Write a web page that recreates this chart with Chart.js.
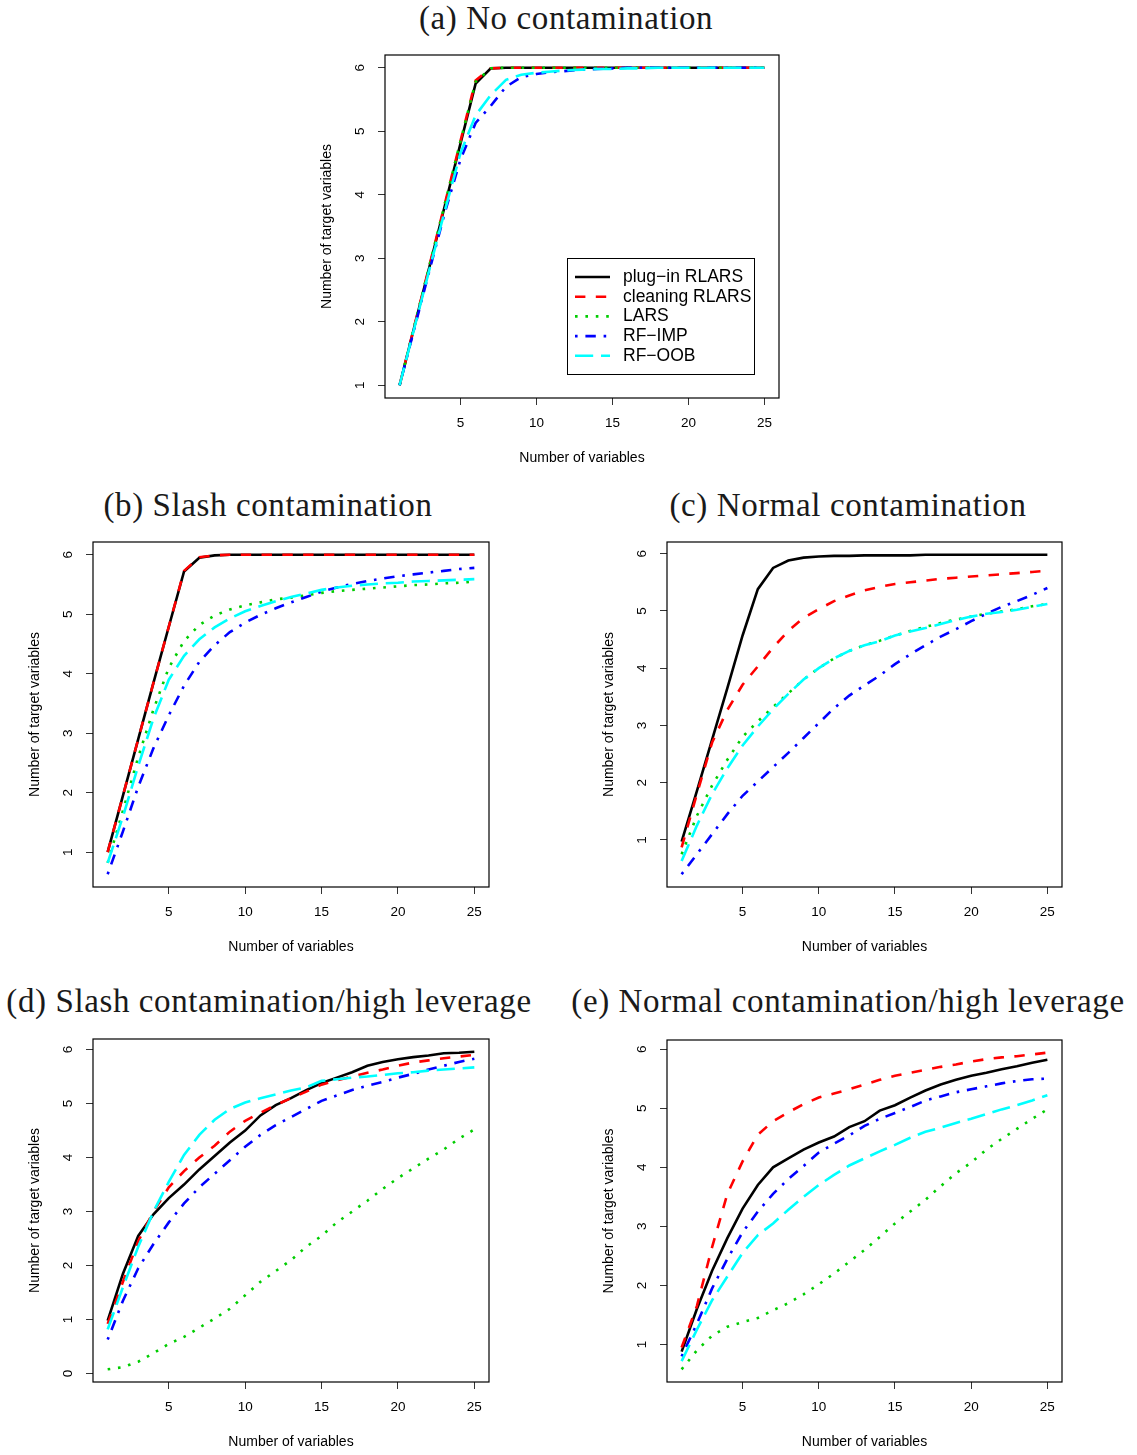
<!DOCTYPE html>
<html lang="en">
<head>
<meta charset="UTF-8">
<title>Number of target variables</title>
<script src="https://cdn.jsdelivr.net/npm/chart.js"></script>
<style>
  body { margin: 0; background: #fff; }
  #page { position: relative; width: 1137px; height: 1455px; overflow: hidden; }
  canvas { position: absolute; }
  .cap { position: absolute; font-family: "Liberation Serif", serif; font-size: 33px; line-height: 1;
         letter-spacing: 0.6px; color: #1a1a1a; white-space: nowrap; transform: translateX(-50%); }
</style>
</head>
<body>
<div id="page"></div>
<script>
const xVals = [1, 2, 3, 4, 5, 6, 7, 8, 9, 10, 11, 12, 13, 14, 15, 16, 17, 18, 19, 20, 21, 22, 23, 24, 25];
const xTicks = [5, 10, 15, 20, 25];

const seriesNames = ['plug\u2212in RLARS', 'cleaning RLARS', 'LARS', 'RF\u2212IMP', 'RF\u2212OOB'];
const seriesColors = ['#000000', '#ff0000', '#00cd00', '#0000ff', '#00ffff'];
const seriesDash = [[], [10.4, 10.4], [2.6, 7.8], [2.6, 7.8, 10.4, 7.8], [18.2, 7.8]];

// (a) no contamination
const aPlugin   = [1, 1.95, 2.9, 3.85, 4.8, 5.75, 5.99, 6, 6, 6, 6, 6, 6, 6, 6, 6, 6, 6, 6, 6, 6, 6, 6, 6, 6];
const aCleaning = [1, 1.96, 2.92, 3.88, 4.84, 5.8, 5.99, 6, 6, 6, 6, 6, 6, 6, 6, 6, 6, 6, 6, 6, 6, 6, 6, 6, 6];
const aLars     = [1, 1.96, 2.92, 3.88, 4.84, 5.78, 5.99, 6, 6, 6, 6, 6, 6, 6, 6, 6, 6, 6, 6, 6, 6, 6, 6, 6, 6];
const aRfImp    = [1, 1.92, 2.84, 3.74, 4.55, 5.13, 5.4, 5.7, 5.85, 5.9, 5.93, 5.95, 5.97, 5.98, 5.99, 6, 6, 6, 6, 6, 6, 6, 6, 6, 6];
const aRfOob    = [1, 1.93, 2.86, 3.77, 4.65, 5.25, 5.57, 5.81, 5.89, 5.92, 5.94, 5.96, 5.97, 5.98, 5.98, 5.99, 5.99, 6, 6, 6, 6, 6, 6, 6, 6];

// (b) slash contamination
const bPlugin   = [1, 1.95, 2.9, 3.85, 4.79, 5.72, 5.95, 5.99, 6, 6, 6, 6, 6, 6, 6, 6, 6, 6, 6, 6, 6, 6, 6, 6, 6];
const bCleaning = [1, 1.95, 2.9, 3.85, 4.79, 5.73, 5.96, 5.99, 6, 6, 6, 6, 6, 6, 6, 6, 6, 6, 6, 6, 6, 6, 6, 6, 6];
const bLars     = [0.82, 1.7, 2.6, 3.4, 4.1, 4.55, 4.82, 4.98, 5.08, 5.15, 5.2, 5.25, 5.28, 5.32, 5.36, 5.39, 5.41, 5.43, 5.45, 5.47, 5.49, 5.5, 5.52, 5.53, 5.55];
const bRfImp    = [0.63, 1.35, 2.1, 2.75, 3.3, 3.8, 4.2, 4.48, 4.7, 4.86, 4.99, 5.1, 5.2, 5.29, 5.38, 5.45, 5.51, 5.56, 5.6, 5.64, 5.67, 5.7, 5.73, 5.76, 5.78];
const bRfOob    = [0.82, 1.6, 2.45, 3.25, 3.9, 4.3, 4.58, 4.78, 4.93, 5.05, 5.14, 5.22, 5.29, 5.35, 5.41, 5.45, 5.48, 5.5, 5.52, 5.53, 5.55, 5.56, 5.57, 5.58, 5.59];

// (c) normal contamination
const cPlugin   = [0.97, 1.85, 2.75, 3.65, 4.57, 5.38, 5.75, 5.88, 5.93, 5.95, 5.96, 5.96, 5.97, 5.97, 5.97, 5.97, 5.98, 5.98, 5.98, 5.98, 5.98, 5.98, 5.98, 5.98, 5.98];
const cCleaning = [0.87, 1.8, 2.7, 3.27, 3.71, 4.03, 4.36, 4.65, 4.88, 5.03, 5.17, 5.27, 5.36, 5.42, 5.47, 5.5, 5.53, 5.56, 5.58, 5.6, 5.62, 5.64, 5.66, 5.68, 5.7];
const cLars     = [0.75, 1.42, 1.95, 2.4, 2.8, 3.07, 3.32, 3.56, 3.8, 4.0, 4.17, 4.3, 4.4, 4.48, 4.57, 4.65, 4.72, 4.79, 4.85, 4.9, 4.95, 4.99, 5.03, 5.08, 5.12];
const cRfImp    = [0.4, 0.75, 1.1, 1.45, 1.77, 2.02, 2.27, 2.52, 2.78, 3.04, 3.3, 3.52, 3.7, 3.87, 4.07, 4.24, 4.4, 4.55, 4.68, 4.82, 4.95, 5.07, 5.17, 5.28, 5.4];
const cRfOob    = [0.63, 1.25, 1.8, 2.25, 2.65, 2.98, 3.28, 3.55, 3.8, 4.0, 4.17, 4.3, 4.4, 4.47, 4.57, 4.64, 4.7, 4.77, 4.84, 4.9, 4.95, 4.98, 5.02, 5.07, 5.12];

// (d) slash contamination / high leverage
const dPlugin   = [0.98, 1.85, 2.55, 2.95, 3.25, 3.5, 3.78, 4.03, 4.28, 4.5, 4.78, 4.97, 5.1, 5.25, 5.38, 5.48, 5.58, 5.7, 5.77, 5.82, 5.86, 5.89, 5.93, 5.94, 5.96];
const dCleaning = [0.92, 1.7, 2.45, 3.0, 3.45, 3.75, 4.0, 4.22, 4.48, 4.68, 4.83, 4.97, 5.1, 5.22, 5.35, 5.43, 5.5, 5.57, 5.63, 5.7, 5.76, 5.8, 5.84, 5.87, 5.9];
const dLars     = [0.08, 0.12, 0.22, 0.38, 0.55, 0.68, 0.85, 1.02, 1.2, 1.45, 1.7, 1.9, 2.1, 2.35, 2.55, 2.8, 3.0, 3.2, 3.42, 3.62, 3.8, 3.98, 4.15, 4.35, 4.52];
const dRfImp    = [0.63, 1.35, 1.95, 2.4, 2.8, 3.15, 3.45, 3.7, 3.95, 4.2, 4.42, 4.6, 4.75, 4.9, 5.05, 5.15, 5.25, 5.33, 5.4, 5.48, 5.55, 5.63, 5.7, 5.77, 5.83];
const dRfOob    = [0.82, 1.6, 2.35, 3.0, 3.55, 4.05, 4.42, 4.7, 4.9, 5.02, 5.1, 5.17, 5.24, 5.3, 5.42, 5.45, 5.48, 5.5, 5.53, 5.56, 5.58, 5.61, 5.63, 5.65, 5.67];

// (e) normal contamination / high leverage
const ePlugin   = [0.88, 1.6, 2.25, 2.8, 3.3, 3.7, 4.0, 4.15, 4.3, 4.42, 4.52, 4.68, 4.78, 4.96, 5.05, 5.18, 5.3, 5.4, 5.48, 5.55, 5.6, 5.66, 5.71, 5.77, 5.82];
const eCleaning = [0.95, 1.65, 2.65, 3.55, 4.1, 4.55, 4.78, 4.93, 5.07, 5.18, 5.25, 5.32, 5.4, 5.48, 5.55, 5.6, 5.65, 5.7, 5.74, 5.79, 5.83, 5.86, 5.88, 5.91, 5.94];
const eLars     = [0.58, 0.9, 1.15, 1.3, 1.38, 1.45, 1.58, 1.7, 1.85, 2.02, 2.2, 2.4, 2.6, 2.82, 3.05, 3.25, 3.45, 3.68, 3.9, 4.08, 4.3, 4.48, 4.65, 4.82, 4.98];
const eRfImp    = [0.8, 1.35, 1.95, 2.45, 2.9, 3.25, 3.55, 3.8, 4.02, 4.25, 4.4, 4.54, 4.7, 4.82, 4.92, 5.02, 5.13, 5.2, 5.27, 5.32, 5.37, 5.42, 5.46, 5.49, 5.5];
const eRfOob    = [0.72, 1.25, 1.75, 2.15, 2.55, 2.85, 3.05, 3.28, 3.5, 3.7, 3.87, 4.03, 4.15, 4.27, 4.38, 4.5, 4.6, 4.67, 4.75, 4.82, 4.9, 4.98, 5.05, 5.13, 5.22];

const AX_LEFT = 90, AX_BOTTOM = 72, PAD_TOP = 10, PAD_RIGHT = 10;
const page = document.getElementById('page');

// R style box around the plot region
const boxPlugin = {
  id: 'rbox',
  afterDraw(chart) {
    const a = chart.chartArea, ctx = chart.ctx;
    ctx.save();
    ctx.strokeStyle = '#000';
    ctx.lineWidth = 1.2;
    ctx.strokeRect(a.left, a.top, a.right - a.left, a.bottom - a.top);
    ctx.restore();
  }
};

// legend box in the bottom right of panel (a)
const legendPlugin = {
  id: 'rlegend',
  afterDraw(chart) {
    const a = chart.chartArea, ctx = chart.ctx;
    const bw = 187, bh = 116;
    const x0 = a.right - 25 - bw, y0 = a.bottom - 24 - bh;
    ctx.save();
    ctx.fillStyle = '#fff';
    ctx.fillRect(x0, y0, bw, bh);
    ctx.strokeStyle = '#000';
    ctx.lineWidth = 1;
    ctx.strokeRect(x0 + 0.5, y0 + 0.5, bw, bh);
    chart.data.datasets.forEach((ds, i) => {
      const y = y0 + 19 + i * 19.7;
      ctx.strokeStyle = ds.borderColor;
      ctx.lineWidth = ds.borderWidth;
      ctx.setLineDash(ds.borderDash);
      ctx.beginPath();
      ctx.moveTo(x0 + 8, y);
      ctx.lineTo(x0 + 43, y);
      ctx.stroke();
      ctx.setLineDash([]);
      ctx.fillStyle = '#000';
      ctx.font = '17.5px "Liberation Sans", Arial, sans-serif';
      ctx.textBaseline = 'middle';
      ctx.fillText(ds.label, x0 + 56, y);
    });
    ctx.restore();
  }
};

function makePanel(box, caption, capX, capY, series, yTicks, withLegend) {
  const w = box[2] - box[0] + AX_LEFT + PAD_RIGHT;
  const h = box[3] - box[1] + PAD_TOP + AX_BOTTOM;
  const cv = document.createElement('canvas');
  cv.width = w;
  cv.height = h;
  cv.style.left = (box[0] - AX_LEFT) + 'px';
  cv.style.top = (box[1] - PAD_TOP) + 'px';
  page.appendChild(cv);

  const cap = document.createElement('div');
  cap.className = 'cap';
  cap.textContent = caption;
  cap.style.left = capX + 'px';
  cap.style.top = capY + 'px';
  page.appendChild(cap);

  // R default axis ranges: data range widened by 4% on each side
  const all = series.flat();
  const lo = Math.min(...all), hi = Math.max(...all);
  const yExt = (hi - lo) * 0.04;
  const xExt = (xVals[xVals.length - 1] - xVals[0]) * 0.04;

  const gridOpts = { drawOnChartArea: false, drawTicks: true, tickLength: 7, color: '#333', lineWidth: 1 };
  const tickFont = { family: '"Liberation Sans", Arial, sans-serif', size: 13.5 };
  const titleFont = { family: '"Liberation Sans", Arial, sans-serif', size: 14 };
  const noPad = s => { s.paddingTop = 0; s.paddingBottom = 0; s.paddingLeft = 0; s.paddingRight = 0; };

  new Chart(cv, {
    type: 'line',
    data: {
      datasets: series.map((vals, i) => ({
        label: seriesNames[i],
        data: xVals.map((x, j) => ({ x: x, y: vals[j] })),
        borderColor: seriesColors[i],
        borderDash: seriesDash[i],
        borderWidth: 2.6,
        pointRadius: 0,
        fill: false,
        tension: 0,
        order: series.length - 1 - i   // later series drawn on top, like R
      }))
    },
    options: {
      responsive: false,
      animation: false,
      layout: { padding: { top: PAD_TOP, right: PAD_RIGHT, left: 0, bottom: 0 } },
      plugins: { legend: { display: false }, tooltip: { enabled: false } },
      scales: {
        x: {
          type: 'linear',
          min: xVals[0] - xExt,
          max: xVals[xVals.length - 1] + xExt,
          afterBuildTicks: s => { s.ticks = xTicks.map(v => ({ value: v })); },
          afterFit: s => { s.height = AX_BOTTOM; noPad(s); },
          grid: gridOpts,
          border: { display: false },
          ticks: { color: '#000', font: tickFont, padding: 10, maxRotation: 0 },
          title: { display: true, text: 'Number of variables', color: '#000', font: titleFont,
                   padding: { top: 0, bottom: 3 } }
        },
        y: {
          type: 'linear',
          min: lo - yExt,
          max: hi + yExt,
          afterBuildTicks: s => { s.ticks = yTicks.map(v => ({ value: v })); },
          afterFit: s => { s.width = AX_LEFT; noPad(s); },
          grid: gridOpts,
          border: { display: false },
          ticks: { color: '#000', font: tickFont, padding: 14, minRotation: 90, maxRotation: 90, crossAlign: 'center' },
          title: { display: true, text: 'Number of target variables', color: '#000', font: titleFont,
                   padding: { top: 24, bottom: 0 } }
        }
      }
    },
    plugins: withLegend ? [boxPlugin, legendPlugin] : [boxPlugin]
  });
}

makePanel([385, 55, 779, 398], '(a) No contamination', 566, 2,
  [aPlugin, aCleaning, aLars, aRfImp, aRfOob], [1, 2, 3, 4, 5, 6], true);
makePanel([93, 542, 489, 887], '(b) Slash contamination', 268, 489,
  [bPlugin, bCleaning, bLars, bRfImp, bRfOob], [1, 2, 3, 4, 5, 6], false);
makePanel([667, 542, 1062, 887], '(c) Normal contamination', 848, 489,
  [cPlugin, cCleaning, cLars, cRfImp, cRfOob], [1, 2, 3, 4, 5, 6], false);
makePanel([93, 1039, 489, 1382], '(d) Slash contamination/high leverage', 269, 985,
  [dPlugin, dCleaning, dLars, dRfImp, dRfOob], [0, 1, 2, 3, 4, 5, 6], false);
makePanel([667, 1040, 1062, 1382], '(e) Normal contamination/high leverage', 848, 985,
  [ePlugin, eCleaning, eLars, eRfImp, eRfOob], [1, 2, 3, 4, 5, 6], false);
</script>
</body>
</html>
